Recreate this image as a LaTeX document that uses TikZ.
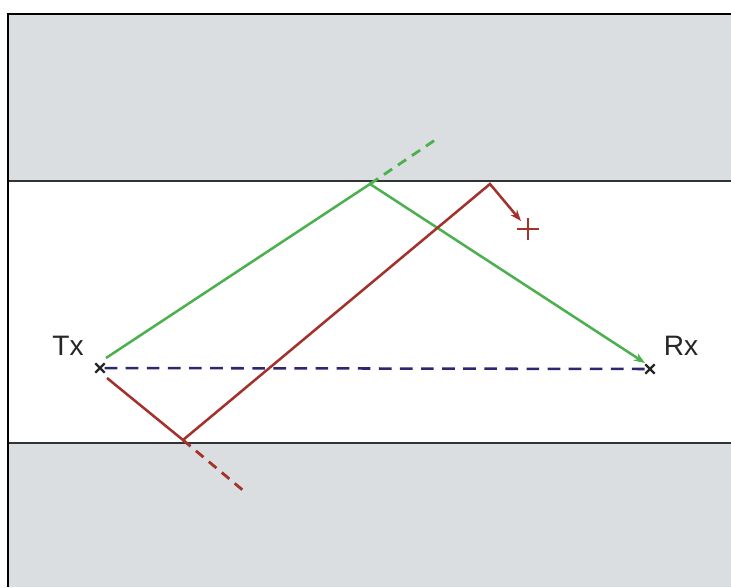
\documentclass[tikz,border=0pt]{standalone}
\usepackage{fontspec}
\setmainfont{Liberation Sans}
\usepackage{xcolor}
\usetikzlibrary{arrows.meta, positioning, calc, shapes.misc}

\definecolor{wallgray}{HTML}{DBDEE1}
\definecolor{raygreen}{HTML}{4DB04F}
\definecolor{rayred}{HTML}{A3322C}
\definecolor{raynavy}{HTML}{2B2870}

\begin{document}
\begin{tikzpicture}[x=0.025cm, y=-0.025cm,
  wall/.style={fill=wallgray, draw=none},
  boundary/.style={draw=black!80, line width=2pt},
  green ray/.style={draw=raygreen, line width=1.8pt},
  red ray/.style={draw=rayred, line width=1.8pt},
  lost/.style={dash pattern=on 7pt off 5pt, line width=2pt},
  direct/.style={draw=raynavy, line width=1.8pt, dash pattern=on 9pt off 6pt},
  antenna/.style={cross out, draw=black!85, line width=1.6pt, minimum size=5pt, inner sep=0pt},
  label/.style={font=\fontsize{20}{24}\selectfont, text=black!85}
]
  \useasboundingbox (0,0) rectangle (731,587);

  % regions
  \fill[white] (0,0) rectangle (731,587);
  \fill[wall] (8,14) rectangle (731,181);
  \fill[wall] (8,443) rectangle (731,587);
  \draw[boundary] (8,181) -- (731,181);
  \draw[boundary] (8,443) -- (731,443);
  \draw[black, line width=1.6pt] (8,587) -- (8,14) -- (731,14);

  % antennas
  \node[antenna] (tx) at (100,368) {};
  \node[antenna] (rx) at (650,369) {};
  \node[label] (txl) at (68,346) {Tx};
  \node[label] (rxl) at (681,346) {Rx};

  % reflection points
  \coordinate (g1) at (370,184);
  \coordinate (gstart) at (106,358);
  \coordinate (gend) at (645,363);
  \coordinate (gout) at (438,138);
  \coordinate (r0) at (107,378);
  \coordinate (r1) at (183,440);
  \coordinate (r2) at (490,184);
  \coordinate (r3) at (521,221);
  \coordinate (rout) at (245,492);
  \node[inner sep=0pt, minimum size=0pt] (stop) at (528,229) {};

  \draw[direct] (tx) -- (rx);
  \draw[green ray, -{Stealth[length=8pt,width=6pt]}] (gstart) -- (g1) -- (gend);
  \draw[raygreen, lost] (g1) -- (gout);
  \draw[red ray, -{Stealth[length=8pt,width=6pt]}] (r0) -- (r1) -- (r2) -- (r3);
  \draw[rayred, lost] (r1) -- (rout);
  \draw[rayred, line width=2pt] ($(stop)+(-11,0)$) -- ($(stop)+(11,0)$)
    ($(stop)+(0,-11)$) -- ($(stop)+(0,11)$);
\end{tikzpicture}
\end{document}
